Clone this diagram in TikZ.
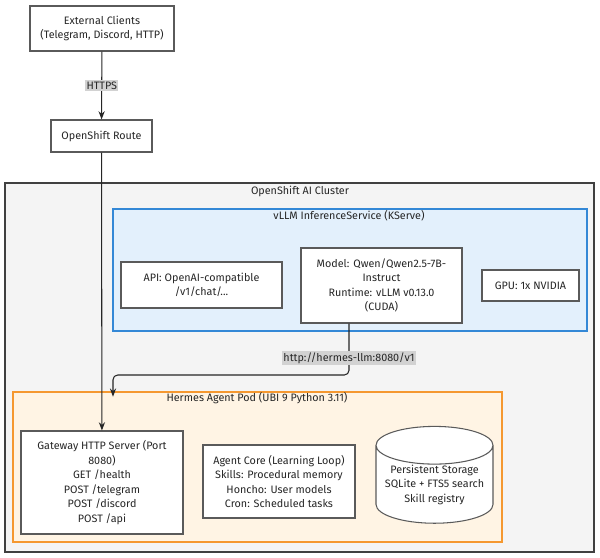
\documentclass[tikz,border=0pt]{standalone}
\usepackage{fontspec}
\setmainfont{Fira Sans}
\usepackage{tikz}
\usetikzlibrary{arrows.meta,positioning,shapes.geometric}
\definecolor{boxgray}{RGB}{90,90,90}
\definecolor{clustergray}{RGB}{244,244,244}
\definecolor{vllmblue}{RGB}{52,136,214}
\definecolor{vllmfill}{RGB}{227,240,252}
\definecolor{podorange}{RGB}{245,152,48}
\definecolor{podfill}{RGB}{255,244,228}
\definecolor{lblgray}{RGB}{210,210,210}
\newlength{\px}
\setlength{\px}{0.03cm}
\begin{document}
\begin{tikzpicture}[x=0.03cm,y=-0.03cm,>=Stealth,
  txt/.style={font=\fontsize{9.2}{12.4}\selectfont,text=black!85},
  box/.style={txt,draw=boxgray,line width=0.9pt,fill=white,align=center,inner sep=0pt},
  group/.style={line width=0.9pt},
  edge/.style={->,line width=0.9pt,black!85},
  elabel/.style={txt,fill=lblgray,inner sep=1pt}]
\useasboundingbox (0,0) rectangle (600,557);
\fill[clustergray,draw=black!75,group] (5,183) rectangle (594,552);
\node[txt] (clus) at (300,191) {OpenShift AI Cluster};
\fill[vllmfill,draw=vllmblue,group] (113,209) rectangle (587,331);
\node[txt] (vllm) at (349,216) {vLLM InferenceService (KServe)};
\fill[podfill,draw=podorange,group] (13,392) rectangle (502,542);
\coordinate (pod) at (113,392);
\node[txt] (podlbl) at (257,398) {Hermes Agent Pod (UBI 9 Python 3.11)};
\node[box,minimum width=144\px,minimum height=45\px] (ext) at (102,28.5) {External Clients\\(Telegram, Discord, HTTP)};
\node[box,minimum width=101\px,minimum height=32\px] (route) at (101.5,136) {OpenShift Route};
\node[box,minimum width=161\px,minimum height=46\px] (api) at (201.5,285) {API: OpenAI-compatible\\/v1/chat/...};
\node[box,minimum width=161\px,minimum height=75\px] (model) at (381.5,285.5) {Model: Qwen/Qwen2.5-7B-\\Instruct\\Runtime: vLLM v0.13.0\\(CUDA)};
\node[box,minimum width=97\px,minimum height=31\px] (gpu) at (530.5,285.5) {GPU: 1x NVIDIA};
\node[box,minimum width=162\px,minimum height=103\px] (gw) at (102,482.5) {Gateway HTTP Server (Port\\8080)\\GET /health\\POST /telegram\\POST /discord\\POST /api};
\node[box,minimum width=152\px,minimum height=73\px] (core) at (279,481.5) {Agent Core (Learning Loop)\\Skills: Procedural memory\\Honcho: User models\\Cron: Scheduled tasks};
\node[box,cylinder,shape border rotate=90,aspect=0.38,minimum width=117\px,minimum height=79\px] (store) at (434.5,484.5) {Persistent Storage\\SQLite + FTS5 search\\Skill registry};
\draw[edge] (ext) -- (route) node[elabel,pos=0.5] {HTTPS};
\draw[edge] (route) -- (gw);
\draw[edge,rounded corners=4] (model.south -| 349,0) |- (113,375) -- ([yshift=-4]pod) ;
\node[elabel] (url) at (349,358) {http://hermes-llm:8080/v1};
\end{tikzpicture}
\end{document}
